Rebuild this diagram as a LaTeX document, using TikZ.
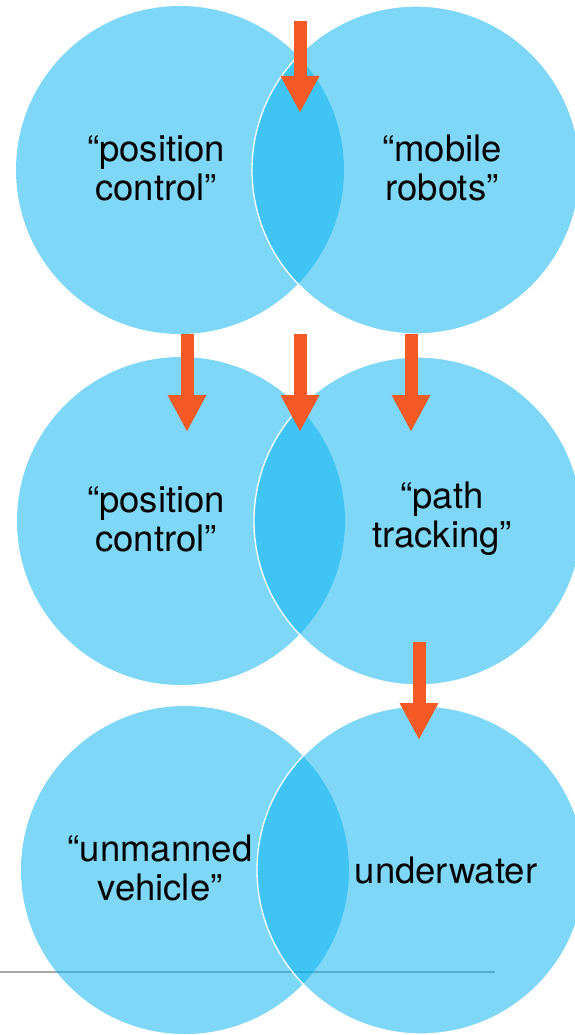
\documentclass[tikz,border=0pt]{standalone}
\usepackage{fontspec}
\setmainfont{TeX Gyre Heros}
\usepackage{xcolor}
\usetikzlibrary{arrows.meta}
\definecolor{vennblue}{RGB}{0,176,240}
\definecolor{arrowred}{RGB}{245,90,36}
\definecolor{rulegrey}{RGB}{168,168,168}
\tikzstyle{venn} = [circle, minimum size=328pt, inner sep=0pt, fill=vennblue, fill opacity=0.5]
\tikzstyle{vennright} = [venn, draw=white, line width=1.3pt]
\tikzstyle{term} = [align=center, inner sep=0pt, text=black, font=\fontsize{36.5}{39}\selectfont]
\tikzstyle{arrow} = [line width=13pt, draw=arrowred, -{Triangle[length=37pt, width=36pt]}]

\begin{document}
\begin{tikzpicture}[x=1pt, y=-1pt]
    \useasboundingbox (0,0) rectangle (575,1035);

    % Rule under the last pair
    \draw [rulegrey, line width=2pt] (0,972) -- (495,972);

    % Circles
    \node (posA) [venn] at (180,170) {};
    \node (mobile) [vennright] at (416,170) {};
    \node (posB) [venn] at (181,521) {};
    \node (path) [vennright] at (418,521) {};
    \node (unmanned) [venn] at (185,870) {};
    \node (underwater) [vennright] at (421,870) {};

    % Labels
    \node (posAText) [term] at (156,168) {“position\\control”};
    \node (mobileText) [term] at (442,168) {“mobile\\robots”};
    \node (posBText) [term] at (156,519) {“position\\control”};
    \node (pathText) [term] at (442,519) {“path\\tracking”};
    \node (unmannedText) [term] at (160,868) {“unmanned\\vehicle”};
    \node (underwaterText) [term] at (446,870) {underwater};

    % Arrow ends
    \coordinate (inTop) at (300,21);
    \coordinate (lensTop) at (300,113);
    \coordinate (dropA) at (187,334);
    \coordinate (landA) at (187,432);
    \coordinate (dropB) at (300,334);
    \coordinate (landB) at (300,432);
    \coordinate (dropC) at (411,334);
    \coordinate (landC) at (411,432);
    \coordinate (dropD) at (419,642);
    \coordinate (landD) at (419,740);

    % Arrows
    \draw [arrow] (inTop) -- (lensTop);
    \draw [arrow] (dropA) -- (landA);
    \draw [arrow] (dropB) -- (landB);
    \draw [arrow] (dropC) -- (landC);
    \draw [arrow] (dropD) -- (landD);

\end{tikzpicture}
\end{document}
